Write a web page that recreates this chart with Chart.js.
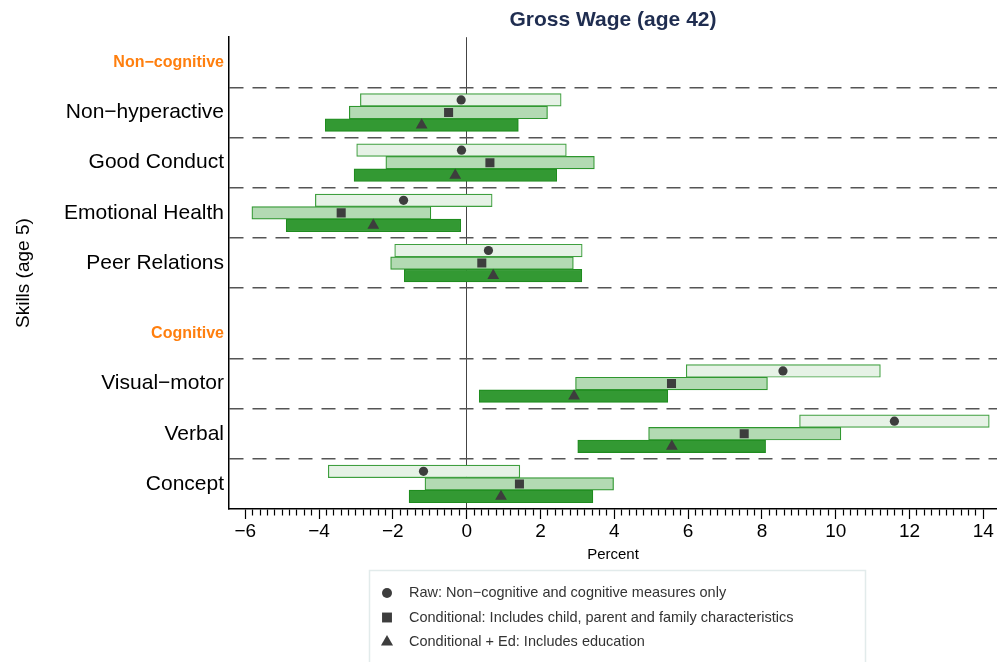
<!DOCTYPE html>
<html>
<head>
<meta charset="utf-8">
<script src="https://cdn.jsdelivr.net/npm/chart.js"></script>
<style>
  html, body { margin: 0; padding: 0; background: #fff; }
  #wrap { width: 997px; height: 662px; position: relative; }
</style>
</head>
<body>
<div id="wrap"><canvas id="wage-chart"></canvas></div>
<script>
// skills and estimates (percent effect on gross wage at 42)
const skills = ["Non\u2212hyperactive", "Good Conduct", "Emotional Health", "Peer Relations",
                "Visual\u2212motor", "Verbal", "Concept"];
const groups = ["Non\u2212cognitive", "Cognitive"];

const rawEst  = [-0.15, -0.14, -1.71, 0.59, 8.57, 11.59, -1.17];
const rawLo   = [-2.88, -2.98, -4.10, -1.95, 5.95, 9.02, -3.75];
const rawHi   = [2.56, 2.70, 0.69, 3.13, 11.21, 14.16, 1.44];
const condEst = [-0.49, 0.63, -3.40, 0.41, 5.55, 7.52, 1.43];
const condLo  = [-3.18, -2.19, -5.82, -2.06, 2.95, 4.93, -1.13];
const condHi  = [2.19, 3.46, -0.97, 2.89, 8.15, 10.14, 3.98];
const edEst   = [-1.22, -0.31, -2.53, 0.72, 2.91, 5.56, 0.93];
const edLo    = [-3.83, -3.05, -4.89, -1.69, 0.34, 3.01, -1.56];
const edHi    = [1.40, 2.44, -0.16, 3.12, 5.45, 8.10, 3.42];

const seriesLabels = [
    "Raw: Non\u2212cognitive and cognitive measures only",
    "Conditional: Includes child, parent and family characteristics",
    "Conditional + Ed: Includes education"
];

// layout of the rows on the (reversed) y scale
const rowPos = [1.5, 2.5, 3.5, 4.5, 6.9, 7.9, 8.9];
const groupPos = [0.5, 5.9];
const rowLines = [1, 2, 3, 4, 5, 6.4, 7.4, 8.4];
const barOffset = [-0.25, 0, 0.25];
const yLabelAt = {};
skills.forEach((s, i) => yLabelAt[rowPos[i]] = s);
groups.forEach((g, i) => yLabelAt[groupPos[i]] = g);

const isMajor = v => Math.abs(v / 2 - Math.round(v / 2)) < 1e-6;
const fmt = v => (v < 0 ? "\u2212" + Math.abs(v) : String(v));
const tickVal = c => (c && c.tick ? c.tick.value : null);
const isGroup = c => groups.includes(yLabelAt[tickVal(c)]);

function bars(lo, hi, k, label, fill, border) {
    return {
        type: "bar", label, indexAxis: "y", grouped: false,
        data: skills.map((s, i) => ({ x: [lo[i], hi[i]], y: rowPos[i] + barOffset[k] })),
        backgroundColor: fill, borderColor: border, borderWidth: 1.2,
        borderSkipped: false, barThickness: 12.6, order: 2
    };
}
function marks(est, k, label, style, r, lr) {
    return {
        type: "scatter", label,
        data: skills.map((s, i) => ({ x: est[i], y: rowPos[i] + barOffset[k] })),
        pointStyle: style, pointRadius: r, pointHoverRadius: r, legendRadius: lr,
        backgroundColor: "#3d3d3d", borderWidth: 0, order: 1
    };
}

// boxed legend under the axis, markers only
const legendBox = {
    id: "legendBox",
    afterDraw(chart) {
        const ctx = chart.ctx;
        const items = chart.data.datasets.filter(d => d.type === "scatter");
        ctx.save();
        ctx.strokeStyle = "#e2ebeb";
        ctx.lineWidth = 1.5;
        ctx.strokeRect(369.5, 570.5, 496, 110);
        ctx.font = '14.5px "Liberation Sans", Arial, sans-serif';
        ctx.textBaseline = "middle";
        items.forEach((d, i) => {
            const y = 593 + i * 24.5;
            ctx.fillStyle = "#3d3d3d";
            Chart.helpers.drawPoint(ctx, { pointStyle: d.pointStyle, radius: d.legendRadius, borderWidth: 0 }, 387, y);
            ctx.fillStyle = "#333";
            ctx.fillText(d.label, 409, y);
        });
        ctx.restore();
    }
};

new Chart(document.getElementById("wage-chart"), {
    type: "bar",
    data: {
        datasets: [
            bars(rawLo, rawHi, 0, "raw", "#e6f2e6", "#3f9f3f"),
            bars(condLo, condHi, 1, "cond", "#b3dab3", "#2e962e"),
            bars(edLo, edHi, 2, "ed", "#339933", "#1f8c1f"),
            marks(rawEst, 0, seriesLabels[0], "circle", 4.6, 5),
            marks(condEst, 1, seriesLabels[1], "rect", 6.4, 7),
            marks(edEst, 2, seriesLabels[2], "triangle", 6.8, 7)
        ]
    },
    options: {
        responsive: true,
        maintainAspectRatio: false,
        animation: false,
        layout: { autoPadding: false, padding: { left: 0, right: 0, top: 0, bottom: 94.7 } },
        font: { family: '"Liberation Sans", Arial, sans-serif' },
        plugins: { legend: { display: false }, tooltip: { enabled: false }, title: { display: false } },
        scales: {
            x: {
                type: "linear", position: "bottom", min: -6.44, max: 14.37, offset: false,
                afterBuildTicks: s => {
                    const t = [];
                    for (let k = -30; k <= 70; k++) t.push({ value: Math.round(k * 2) / 10 });
                    s.ticks = t;
                },
                afterFit: s => { s.paddingRight = 0; s.paddingLeft = 0; },
                ticks: {
                    autoSkip: false, maxRotation: 0, minRotation: 0, padding: 1,
                    color: "#000", font: { size: 19 },
                    callback: v => (isMajor(v) ? fmt(Math.round(v)) : "")
                },
                grid: {
                    offset: false,
                    color: c => (tickVal(c) !== null && Math.abs(tickVal(c)) < 1e-6 ? "#444" : "rgba(0,0,0,0)"),
                    lineWidth: 1, tickLength: 10, tickColor: "#000", tickWidth: 1.2,
                    tickBorderDash: c => (tickVal(c) !== null && !isMajor(tickVal(c)) ? [6, 20] : [])
                },
                border: { display: true, color: "#000", width: 1.5 },
                title: { display: true, text: "Percent", color: "#000", font: { size: 15, lineHeight: 1.1 }, padding: { top: 3, bottom: 4 } }
            },
            top: {
                type: "linear", axis: "x", position: "top", offset: false,
                ticks: { display: false },
                grid: { display: false, drawTicks: false, offset: false },
                border: { display: false },
                title: {
                    display: true, text: "Gross Wage (age 42)", color: "#1f2d50",
                    font: { size: 21, weight: "bold" }, padding: { top: 8, bottom: 4 }
                }
            },
            y: {
                type: "linear", reverse: true, min: 0, max: 9.4, offset: false, beginAtZero: false,
                afterBuildTicks: s => {
                    s.ticks = rowPos.concat(groupPos, rowLines).sort((a, b) => a - b).map(v => ({ value: v }));
                },
                afterFit: s => { s.width = 229; },
                ticks: {
                    autoSkip: false, padding: 5,
                    callback: v => yLabelAt[v] || "",
                    color: c => (isGroup(c) ? "#ff7f0e" : "#000"),
                    font: c => (isGroup(c) ? { size: 16, weight: "bold" } : { size: 21 })
                },
                grid: {
                    offset: false,
                    color: c => (rowLines.includes(tickVal(c)) ? "#555" : "rgba(0,0,0,0)"),
                    lineWidth: 1.5, drawTicks: false
                },
                border: { display: true, color: "#000", width: 1.5, dash: [14, 9] },
                title: { display: true, text: "Skills (age 5)", color: "#000", font: { size: 19 }, padding: { top: 12, bottom: 0 } }
            }
        }
    },
    plugins: [legendBox]
});
</script>
</body>
</html>
